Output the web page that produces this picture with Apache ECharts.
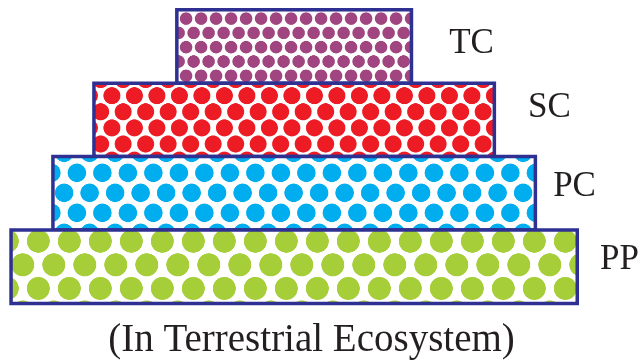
<!DOCTYPE html>
<html><head><meta charset="utf-8">
<script src="https://cdn.jsdelivr.net/npm/echarts@6/dist/echarts.min.js"></script>
<style>html,body{margin:0;padding:0;background:#fff}#c{width:642px;height:361px}</style>
</head><body><div id="c"></div>
<script>
// ---- data ----
const levels = ['TC', 'SC', 'PC', 'PP'];
const widths = [41.8, 70.9, 85.3, 100];
const caption = '(In Terrestrial Ecosystem)';

// ---- styles ----
const dotColors = ['#a04580', '#ed1c24', '#00aeef', '#a6ce39'];
const dotStyle = [
  {sx: 15,   sy: 14.3, d: 12.5, px: 11,   py: 0.7},
  {sx: 22.5, sy: 16.1, d: 17,   px: 19.7, py: 8},
  {sx: 25.5, sy: 20,   d: 18.5, px: 0.2,  py: -20.5},
  {sx: 31,   sy: 23.6, d: 23,   px: -2,   py: -25.5}
];
const labelGap = [36, 32, 16, 21];
const labelDy = [-3, -12.5, -6.5, -6.5];
const border = '#2e3192', lw = 3.5;
const textColor = '#231f20';

function makeTile(s, color) {
  const k = 2;
  const c = document.createElement('canvas');
  c.width = Math.round(s.sx * k);
  c.height = Math.round(2 * s.sy * k);
  const kx = c.width / s.sx, ky = c.height / (2 * s.sy);
  const g = c.getContext('2d');
  g.fillStyle = '#fff';
  g.fillRect(0, 0, c.width, c.height);
  g.fillStyle = color;
  const pts = [[0, 0], [s.sx, 0], [0, 2 * s.sy], [s.sx, 2 * s.sy], [s.sx / 2, s.sy]];
  const r = s.d / 2;
  pts.forEach(p => { g.beginPath(); g.ellipse(p[0] * kx, p[1] * ky, r * kx, r * ky, 0, 0, Math.PI * 2); g.fill(); });
  return {canvas: c, scaleX: s.sx / c.width, scaleY: 2 * s.sy / c.height};
}
const tiles = dotStyle.map((s, i) => makeTile(s, dotColors[i]));

const chart = echarts.init(document.getElementById('c'), null, {renderer: 'canvas'});
chart.setOption({
  animation: false,
  backgroundColor: '#ffffff',
  title: {
    text: caption, left: 306.5, textAlign: 'center', top: 316,
    textStyle: {fontFamily: 'Liberation Serif', fontSize: 39, fontWeight: 'normal', color: textColor}
  },
  grid: {left: 9.3, right: 63, top: 9.8, bottom: 57.6},
  xAxis: {type: 'value', min: -50, max: 50, show: false},
  yAxis: {type: 'category', data: levels, inverse: true, show: false},
  series: [{
    type: 'custom',
    encode: {x: 0, y: 1},
    data: levels.map((c, i) => [widths[i], i]),
    renderItem(params, api) {
      const i = api.value(1), w = api.value(0);
      const l = api.coord([-w / 2, i]), r = api.coord([w / 2, i]);
      const band = api.size([0, 1])[1];
      const yc = l[1], left = l[0], right = r[0];
      const t = tiles[i], s = dotStyle[i];
      return {
        type: 'group',
        children: [
          {type: 'rect',
           shape: {x: left + lw / 2, y: yc - band / 2, width: right - left - lw, height: band},
           style: {fill: {image: t.canvas, repeat: 'repeat', x: left + s.px, y: yc + s.py, scaleX: t.scaleX, scaleY: t.scaleY},
                   stroke: border, lineWidth: lw}},
          {type: 'text',
           style: {text: levels[i], x: right + labelGap[i], y: yc + labelDy[i],
                   font: '35px "Liberation Serif"', fill: textColor, align: 'left', verticalAlign: 'middle'}}
        ]
      };
    }
  }]
});
</script></body></html>
